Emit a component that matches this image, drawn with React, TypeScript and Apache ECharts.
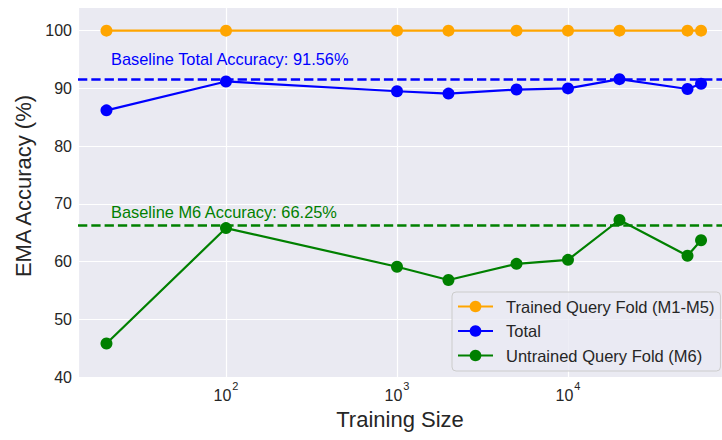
import React, { useEffect, useRef } from "react";
import * as echarts from "echarts";

const trainingSizes = [20, 100, 1000, 2000, 5000, 10000, 20000, 50000, 60000];
const trainedAcc = [100, 100, 100, 100, 100, 100, 100, 100, 100];
const totalAcc = [86.2, 91.2, 89.5, 89.1, 89.8, 90.0, 91.6, 89.9, 90.8];
const untrainedAcc = [45.8, 65.8, 59.1, 56.8, 59.6, 60.3, 67.2, 61.0, 63.7];
const baselineTotal = 91.56;
const baselineM6 = 66.25;
const seriesNames = ["Trained Query Fold (M1-M5)", "Total", "Untrained Query Fold (M6)"];
const colors = ["#FFA500", "#0000FF", "#008000"];

const FONT = "'Liberation Sans', Arial, sans-serif";
const TXT = "#262626";

function pairs(values: number[]) {
  return trainingSizes.map((x, i) => [x, values[i]]);
}

export default function App() {
  const ref = useRef<HTMLDivElement>(null);
  useEffect(() => {
    document.body.style.margin = "0";
    const chart = echarts.init(ref.current!, null, { renderer: "svg" });
    const mkSeries = (name: string, color: string, values: number[], extra: any = {}) => ({
      name,
      type: "line",
      data: pairs(values),
      symbol: "circle",
      symbolSize: 12,
      showSymbol: true,
      itemStyle: { color },
      lineStyle: { color, width: 2.2 },
      emphasis: { disabled: true },
      ...extra,
    });
    const baseLine = (value: number, color: string, text: string, dist: number[]) => ({
      silent: true,
      symbol: ["none", "none"],
      lineStyle: { color, width: 2.6, type: [9.3, 4] },
      label: {
        show: true,
        position: "insideStartTop",
        formatter: text,
        color,
        fontSize: 16.4,
        fontFamily: FONT,
        distance: dist,
      },
      emphasis: { disabled: true },
      data: [{ yAxis: value }],
    });
    chart.setOption({
      animation: false,
      backgroundColor: "#ffffff",
      textStyle: { fontFamily: FONT },
      grid: { left: 78, top: 7, right: 0, bottom: 63, backgroundColor: "#EAEAF2", show: true, borderWidth: 0 },
      xAxis: {
        type: "log",
        logBase: 10,
        min: 13.63,
        max: 79560,
        name: "Training Size",
        nameLocation: "middle",
        nameGap: 31,
        nameTextStyle: { fontSize: 22, color: TXT, fontFamily: FONT },
        axisLine: { show: false },
        axisTick: { show: false },
        splitLine: { show: true, lineStyle: { color: "#ffffff", width: 1.2 } },
        minorSplitLine: { show: false },
        axisLabel: {
          showMinLabel: false,
          showMaxLabel: false,
          margin: 3,
          color: TXT,
          formatter: (v: number) => "{b|10}{s|" + Math.round(Math.log10(v)) + "}",
          rich: {
            b: { fontSize: 16, color: TXT, fontFamily: FONT },
            s: { fontSize: 11, color: TXT, fontFamily: FONT, padding: [0, 0, 20, 1] },
          },
        },
      },
      yAxis: {
        type: "value",
        min: 40,
        max: 104.1,
        interval: 10,
        name: "EMA Accuracy (%)",
        nameLocation: "middle",
        nameGap: 43,
        nameTextStyle: { fontSize: 22, color: TXT, fontFamily: FONT, padding: [0, 0, 0, 12] },
        axisLine: { show: false },
        axisTick: { show: false },
        splitLine: { show: true, lineStyle: { color: "#ffffff", width: 1.2 } },
        axisLabel: { showMaxLabel: false, margin: 6, fontSize: 16, color: TXT, fontFamily: FONT },
      },
      legend: {
        orient: "vertical",
        left: 452,
        top: 292,
        padding: [6, 6, 7, 5],
        itemWidth: 35,
        itemHeight: 14.6,
        itemGap: 7.5,
        backgroundColor: "rgba(234,234,242,0.8)",
        borderColor: "#cccccc",
        borderWidth: 1,
        borderRadius: 4,
        data: seriesNames,
        textStyle: { fontSize: 16.5, color: TXT, fontFamily: FONT, lineHeight: 15, padding: [0, 0, 0, 8] },
      },
      series: [
        mkSeries(seriesNames[0], colors[0], trainedAcc),
        mkSeries(seriesNames[1], colors[1], totalAcc, {
          markLine: baseLine(baselineTotal, colors[1], "Baseline Total Accuracy: " + baselineTotal.toFixed(2) + "%", [33, 12]),
        }),
        mkSeries(seriesNames[2], colors[2], untrainedAcc, {
          markLine: baseLine(baselineM6, colors[2], "Baseline M6 Accuracy: " + baselineM6.toFixed(2) + "%", [33, 5]),
        }),
      ],
    });
    return () => chart.dispose();
  }, []);
  return <div ref={ref} style={{ width: 722, height: 440 }} />;
}
